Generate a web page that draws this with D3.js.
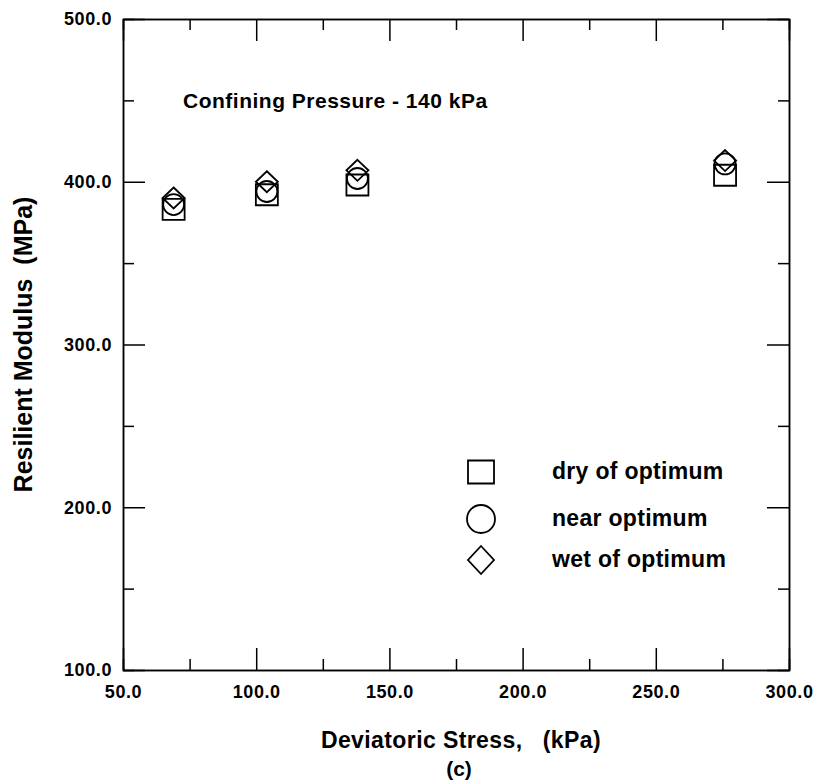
<!DOCTYPE html>
<html>
<head>
<meta charset="UTF-8">
<title>Resilient Modulus</title>
<script src="https://cdn.jsdelivr.net/npm/d3@7"></script>
<style>
  body { margin: 0; background: #fff; }
  svg { display: block; }
  text { font-family: "Liberation Sans", Arial, sans-serif; font-weight: bold; fill: #000; }
  .axis path, .axis line { stroke: #000; stroke-width: 1.5px; }
  .axis text { font-size: 18px; letter-spacing: 0.6px; font-family: "Liberation Sans", Arial, sans-serif; font-weight: bold; }
  .mark { fill: none; stroke: #000; stroke-width: 1.8px; }
</style>
</head>
<body>
<div id="chart"></div>
<script>
// deviatoric stress (kPa)
var stress = [69, 104, 138, 276];
// resilient modulus (MPa)
var dryOpt  = [383, 392, 398, 404];
var nearOpt = [386, 394, 402, 411];
var wetOpt  = [390, 400, 407, 413];

var seriesNames = ["dry of optimum", "near optimum", "wet of optimum"];
var xTicks = [50, 100, 150, 200, 250, 300];
var yTicks = [100, 200, 300, 400, 500];
var xMinor = [75, 125, 175, 225, 275];
var yMinor = [150, 250, 350, 450];

var W = 814, H = 781;
var box = { l: 123, r: 789, t: 19, b: 670 };

var x = d3.scaleLinear().domain([50, 300]).range([box.l, box.r]);
var y = d3.scaleLinear().domain([100, 500]).range([box.b, box.t]);

var svg = d3.select("#chart").append("svg")
  .attr("width", W).attr("height", H);

var fmt = d3.format(".1f");

// bottom axis
svg.append("g").attr("class", "axis")
  .attr("transform", "translate(0," + box.b + ")")
  .call(d3.axisBottom(x).tickValues(xMinor).tickSize(-11).tickFormat(""));
svg.append("g").attr("class", "axis")
  .attr("transform", "translate(0," + box.b + ")")
  .call(d3.axisBottom(x).tickValues(xTicks).tickSize(-22).tickSizeOuter(0).tickPadding(15).tickFormat(fmt));
// top axis
svg.append("g").attr("class", "axis")
  .attr("transform", "translate(0," + box.t + ")")
  .call(d3.axisTop(x).tickValues(xMinor).tickSize(-11).tickFormat(""));
svg.append("g").attr("class", "axis")
  .attr("transform", "translate(0," + box.t + ")")
  .call(d3.axisTop(x).tickValues(xTicks).tickSize(-22).tickSizeOuter(0).tickFormat(""));
// left axis
svg.append("g").attr("class", "axis")
  .attr("transform", "translate(" + box.l + ",0)")
  .call(d3.axisLeft(y).tickValues(yMinor).tickSize(-11).tickFormat(""));
svg.append("g").attr("class", "axis")
  .attr("transform", "translate(" + box.l + ",0)")
  .call(d3.axisLeft(y).tickValues(yTicks).tickSize(-22).tickSizeOuter(0).tickPadding(11).tickFormat(fmt));
// right axis
svg.append("g").attr("class", "axis")
  .attr("transform", "translate(" + box.r + ",0)")
  .call(d3.axisRight(y).tickValues(yMinor).tickSize(-11).tickFormat(""));
svg.append("g").attr("class", "axis")
  .attr("transform", "translate(" + box.r + ",0)")
  .call(d3.axisRight(y).tickValues(yTicks).tickSize(-22).tickSizeOuter(0).tickFormat(""));

// markers
function diamondPath(rx, ry) {
  return "M0," + (-ry) + "L" + rx + ",0L0," + ry + "L" + (-rx) + ",0Z";
}
function rectPath(w, h) {
  return "M" + (-w / 2) + "," + (-h / 2) + "h" + w + "v" + h + "h" + (-w) + "Z";
}
var sq = rectPath(22, 21);
var ci = d3.symbol().type(d3.symbolCircle).size(Math.PI * 10.5 * 10.5)();
var di = diamondPath(11, 10.5);

var pts = svg.append("g");
[[dryOpt, sq], [nearOpt, ci], [wetOpt, di]].forEach(function(s) {
  pts.append("g").selectAll("path").data(stress).enter().append("path")
    .attr("class", "mark")
    .attr("d", s[1])
    .attr("transform", function(d, i) { return "translate(" + x(d) + "," + y(s[0][i]) + ")"; });
});

// legend
var legend = svg.append("g").attr("transform", "translate(481,0)");
var legY = [472, 519, 560];
var legShapes = [rectPath(26, 23), d3.symbol().type(d3.symbolCircle).size(Math.PI * 14 * 14)(), diamondPath(13, 14)];
var li = legend.selectAll("g").data(seriesNames).enter().append("g")
  .attr("transform", function(d, i) { return "translate(0," + legY[i] + ")"; });
li.append("path").attr("class", "mark").attr("d", function(d, i) { return legShapes[i]; });
li.append("text").attr("x", 71).attr("dy", "0.32em")
  .style("font-size", "23px").style("letter-spacing", "0.3px")
  .text(function(d) { return d; });

// annotation
svg.append("text").attr("x", 183).attr("y", 108)
  .style("font-size", "21px").style("letter-spacing", "0.5px")
  .text("Confining Pressure - 140 kPa");

// axis titles
svg.append("text").attr("x", 461).attr("y", 748)
  .attr("text-anchor", "middle").style("font-size", "23px").style("letter-spacing", "0.4px")
  .attr("xml:space", "preserve")
  .text("Deviatoric Stress,   (kPa)");
svg.append("text").attr("x", 459).attr("y", 776)
  .attr("text-anchor", "middle").style("font-size", "21px")
  .text("(c)");
svg.append("text")
  .attr("transform", "translate(32," + ((box.t + box.b) / 2) + ") rotate(-90)")
  .attr("text-anchor", "middle").style("font-size", "25px")
  .attr("xml:space", "preserve")
  .text("Resilient Modulus  (MPa)");
</script>
</body>
</html>
